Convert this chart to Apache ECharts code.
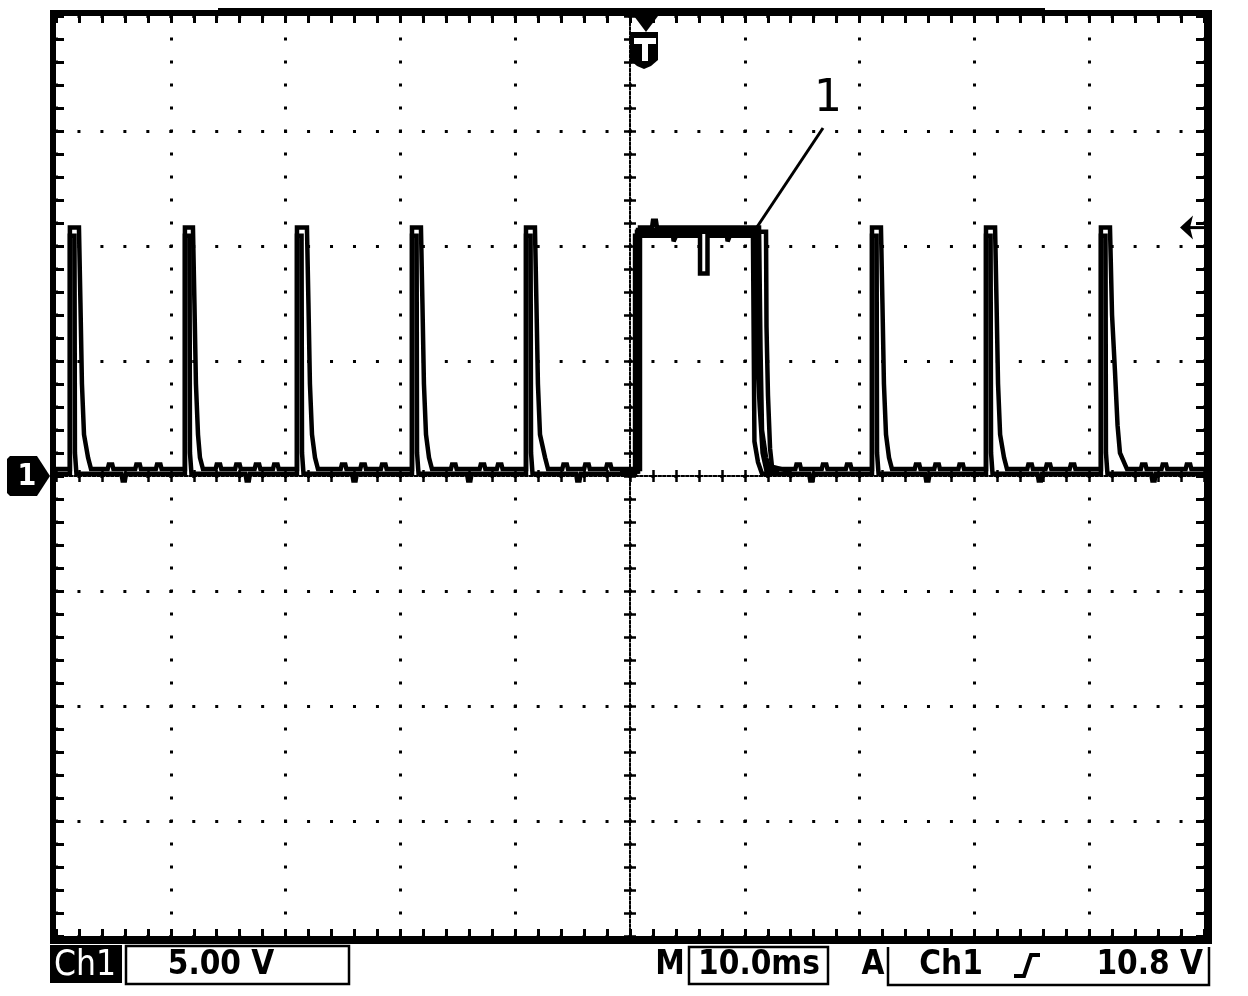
<!DOCTYPE html>
<html><head><meta charset="utf-8">
<script src="https://cdn.jsdelivr.net/npm/echarts@6/dist/echarts.min.js"></script>
<style>html,body{margin:0;padding:0;background:#fff;}#c{width:1248px;height:996px;}</style>
</head><body><div id="c"></div>
<script>
// ---- scales (ms and V) ----
const timeRange = [-50, 50];   // 10.0 ms / div, 10 divisions
const timeStep = 10;
const voltRange = [-20, 20];   // 5.00 V / div, 8 divisions
const voltStep = 5;

// ---- status texts ----
const channelName = 'Ch1';
const voltsPerDiv = '5.00 V';
const timePerDiv = '10.0ms';
const triggerSource = 'Ch1';
const triggerLevelText = '10.8 V';
const triggerLevel = 10.8;
const calloutLabel = '1';

// ---- persistence traces [ms, V] ----
const traceA = [
 [-50.0, 0.1],
 [-48.79, 0.1], [-48.79, 10.45], [-48.39, 10.45], [-48.35, 1.0], [-48.22, 0.1],
 [-44.30, 0.1], [-44.20, -0.2], [-44.00, -0.2], [-43.90, 0.1],
 [-38.77, 0.1], [-38.77, 10.45], [-38.37, 10.45], [-38.33, 1.0], [-38.20, 0.1],
 [-33.50, 0.1], [-33.40, -0.2], [-33.20, -0.2], [-33.10, 0.1],
 [-29.01, 0.1], [-29.01, 10.45], [-28.61, 10.45], [-28.57, 1.0], [-28.44, 0.1],
 [-24.20, 0.1], [-24.10, -0.2], [-23.90, -0.2], [-23.80, 0.1],
 [-18.99, 0.1], [-18.99, 10.45], [-18.59, 10.45], [-18.55, 1.0], [-18.42, 0.1],
 [-14.20, 0.1], [-14.10, -0.2], [-13.90, -0.2], [-13.80, 0.1],
 [-9.06, 0.1], [-9.06, 10.45], [-8.66, 10.45], [-8.62, 1.0], [-8.49, 0.1],
 [-4.70, 0.1], [-4.60, -0.2], [-4.40, -0.2], [-4.30, 0.1],
 [0.44, 0.1], [0.44, 10.45], [3.75, 10.45], [3.80, 10.2], [3.97, 10.2], [4.02, 10.45],
 [6.10, 10.45], [6.10, 8.8], [6.75, 8.8], [6.75, 10.45],
 [8.45, 10.45], [8.50, 10.2], [8.65, 10.2], [8.70, 10.45],
 [10.71, 10.45], [10.84, 1.5], [11.15, 0.6], [11.50, 0.1],
 [15.60, 0.1], [15.70, -0.2], [15.90, -0.2], [16.00, 0.1],
 [21.08, 0.1], [21.08, 10.45], [21.48, 10.45], [21.52, 1.0], [21.65, 0.1],
 [25.70, 0.1], [25.80, -0.2], [26.00, -0.2], [26.10, 0.1],
 [31.01, 0.1], [31.01, 10.45], [31.41, 10.45], [31.45, 1.0], [31.58, 0.1],
 [35.50, 0.1], [35.60, -0.2], [35.80, -0.2], [35.90, 0.1],
 [41.02, 0.1], [41.02, 10.45], [41.42, 10.45], [41.46, 1.0], [41.59, 0.1],
 [45.40, 0.1], [45.50, -0.2], [45.70, -0.2], [45.80, 0.1],
 [50.0, 0.1]
];

const traceB = [
 [-50.0, 0.3],
 [-48.79, 0.3], [-48.79, 10.8], [-48.00, 10.8], [-47.87, 7.5], [-47.74, 4.0], [-47.56, 1.8], [-47.21, 0.8], [-46.95, 0.3],
 [-45.50, 0.3], [-45.40, 0.5], [-45.10, 0.5], [-45.00, 0.3],
 [-43.10, 0.3], [-43.00, 0.5], [-42.70, 0.5], [-42.60, 0.3],
 [-41.30, 0.3], [-41.20, 0.5], [-40.90, 0.5], [-40.80, 0.3],
 [-38.77, 0.3], [-38.77, 10.8], [-38.07, 10.8], [-37.94, 7.5], [-37.81, 4.0], [-37.63, 1.8], [-37.46, 0.8], [-37.20, 0.3],
 [-36.10, 0.3], [-36.00, 0.5], [-35.70, 0.5], [-35.60, 0.3],
 [-34.40, 0.3], [-34.30, 0.5], [-34.00, 0.5], [-33.90, 0.3],
 [-32.70, 0.3], [-32.60, 0.5], [-32.30, 0.5], [-32.20, 0.3],
 [-31.10, 0.3], [-31.00, 0.5], [-30.70, 0.5], [-30.60, 0.3],
 [-29.01, 0.3], [-29.01, 10.8], [-28.14, 10.8], [-28.01, 7.5], [-27.88, 4.0], [-27.70, 1.8], [-27.44, 0.8], [-27.18, 0.3],
 [-25.20, 0.3], [-25.10, 0.5], [-24.80, 0.5], [-24.70, 0.3],
 [-23.50, 0.3], [-23.40, 0.5], [-23.10, 0.5], [-23.00, 0.3],
 [-21.70, 0.3], [-21.60, 0.5], [-21.30, 0.5], [-21.20, 0.3],
 [-18.99, 0.3], [-18.99, 10.8], [-18.21, 10.8], [-18.08, 7.5], [-17.95, 4.0], [-17.77, 1.8], [-17.51, 0.8], [-17.25, 0.3],
 [-15.60, 0.3], [-15.50, 0.5], [-15.20, 0.5], [-15.10, 0.3],
 [-13.10, 0.3], [-13.00, 0.5], [-12.70, 0.5], [-12.60, 0.3],
 [-11.60, 0.3], [-11.50, 0.5], [-11.20, 0.5], [-11.10, 0.3],
 [-9.06, 0.3], [-9.06, 10.8], [-8.28, 10.8], [-8.15, 7.5], [-8.02, 4.0], [-7.84, 1.8], [-7.40, 0.8], [-7.14, 0.3],
 [-5.90, 0.3], [-5.80, 0.5], [-5.50, 0.5], [-5.40, 0.3],
 [-4.00, 0.3], [-3.90, 0.5], [-3.60, 0.5], [-3.50, 0.3],
 [-2.10, 0.3], [-2.00, 0.5], [-1.70, 0.5], [-1.60, 0.3],
 [0.87, 0.3], [0.87, 10.8], [1.92, 10.8], [2.00, 11.1], [2.26, 11.1], [2.35, 10.8],
 [11.24, 10.8], [11.37, 5.5], [11.50, 2.0], [11.85, 0.8], [12.19, 0.3],
 [14.40, 0.3], [14.50, 0.5], [14.80, 0.5], [14.90, 0.3],
 [16.70, 0.3], [16.80, 0.5], [17.10, 0.5], [17.20, 0.3],
 [18.80, 0.3], [18.90, 0.5], [19.20, 0.5], [19.30, 0.3],
 [21.08, 0.3], [21.08, 10.8], [21.86, 10.8], [21.99, 7.5], [22.12, 4.0], [22.30, 1.8], [22.56, 0.8], [22.82, 0.3],
 [24.80, 0.3], [24.90, 0.5], [25.20, 0.5], [25.30, 0.3],
 [26.50, 0.3], [26.60, 0.5], [26.90, 0.5], [27.00, 0.3],
 [28.60, 0.3], [28.70, 0.5], [29.00, 0.5], [29.10, 0.3],
 [31.01, 0.3], [31.01, 10.8], [31.80, 10.8], [31.93, 7.5], [32.06, 4.0], [32.24, 1.8], [32.58, 0.8], [32.84, 0.3],
 [34.60, 0.3], [34.70, 0.5], [35.00, 0.5], [35.10, 0.3],
 [36.20, 0.3], [36.30, 0.5], [36.60, 0.5], [36.70, 0.3],
 [38.30, 0.3], [38.40, 0.5], [38.70, 0.5], [38.80, 0.3],
 [41.02, 0.3], [41.02, 10.8], [41.81, 10.8], [41.99, 7.0], [42.25, 4.5], [42.47, 2.2], [42.68, 1.0], [43.29, 0.3],
 [44.50, 0.3], [44.60, 0.5], [44.90, 0.5], [45.00, 0.3],
 [46.30, 0.3], [46.40, 0.5], [46.70, 0.5], [46.80, 0.3],
 [48.40, 0.3], [48.50, 0.5], [48.80, 0.5], [48.90, 0.3],
 [50.0, 0.3]
];

// extra sweeps of the long pulse (falling-edge jitter)
const traceC = [
 [-0.87, 0.2], [0.61, 0.2], [0.61, 10.62], [11.85, 10.62], [11.89, 6.5], [12.02, 3.5], [12.20, 1.2], [12.37, 0.4], [13.94, 0.2]
];
const traceD = [
 [-0.50, 0.2], [0.70, 0.2], [0.70, 10.7], [11.00, 10.7], [11.05, 5.4], [11.30, 3.0], [11.55, 1.0], [11.90, 0.2], [13.00, 0.2]
];

// ---- layout ----
const G = {left: 56, top: 16, width: 1148, height: 920};
const INK = '#000';
const tickLine = {color: INK, width: 3};
const FONT = '"DejaVu Sans Condensed","Liberation Sans Narrow","DejaVu Sans",sans-serif';

function xAx(pos, onZero, extra) {
  return Object.assign({
    type: 'value', min: timeRange[0], max: timeRange[1], interval: timeStep,
    position: pos,
    axisLine: {show: false, onZero: false},
    axisTick: {show: true, inside: true, length: 7, lineStyle: tickLine},
    minorTick: {show: true, splitNumber: 5, length: 7, lineStyle: tickLine},
    axisLabel: {show: false},
    splitLine: {show: false}
  }, extra || {});
}
function yAx(pos, extra) {
  return Object.assign({
    type: 'value', min: voltRange[0], max: voltRange[1], interval: voltStep,
    position: pos,
    axisLine: {show: false, onZero: false},
    axisTick: {show: true, inside: true, length: 8, lineStyle: tickLine},
    minorTick: {show: true, splitNumber: 5, length: 8, lineStyle: tickLine},
    axisLabel: {show: false},
    splitLine: {show: false}
  }, extra || {});
}
const centerLine = {show: true, onZero: true, onZeroAxisIndex: 0,
  lineStyle: {color: INK, width: 2, type: [2.3, 2.3]}};
const centerTick = {show: true, inside: false, length: 6, lineStyle: {color: INK, width: 2.5}};
const centerMinor = {show: true, splitNumber: 5, length: 6, lineStyle: {color: INK, width: 2.5}};

const xAxes = [
  xAx('bottom', false, {splitLine: {show: true, lineStyle: {color: INK, width: 3, type: [3, 20], dashOffset: 1.5}}}),
  xAx('top', false),
  xAx('bottom', true, {axisLine: centerLine, axisTick: centerTick, minorTick: centerMinor}),
  xAx('top', true, {axisLine: centerLine, axisTick: centerTick, minorTick: centerMinor})
];
const yAxes = [
  yAx('left', {splitLine: {show: true, lineStyle: {color: INK, width: 3, type: [3, 19.96], dashOffset: 1.5}}}),
  yAx('right'),
  yAx('left', {axisLine: centerLine, axisTick: centerTick, minorTick: centerMinor}),
  yAx('right', {axisLine: centerLine, axisTick: centerTick, minorTick: centerMinor})
];

function trace(data, w) {
  return {type: 'line', data: data, xAxisIndex: 0, yAxisIndex: 0, showSymbol: false,
    symbol: 'none', lineStyle: {color: INK, width: w, join: 'miter', miterLimit: 2},
    animation: false, z: 5, silent: true};
}

const chart = echarts.init(document.getElementById('c'), null, {renderer: 'canvas'});
chart.setOption({
  backgroundColor: '#fff',
  animation: false,
  grid: Object.assign({}, G),
  xAxis: xAxes,
  yAxis: yAxes,
  series: [trace(traceA, 4.5), trace(traceB, 4.5), trace(traceC, 4.5), trace(traceD, 4.5)]
});

// ---- screen furniture ----
const yTrig = chart.convertToPixel({yAxisIndex: 0}, triggerLevel);
const yGnd = chart.convertToPixel({yAxisIndex: 0}, 0);

function rect(x, y, w, h, fill) { return {type: 'rect', shape: {x: x, y: y, width: w, height: h}, style: {fill: fill || INK}, z: 100, silent: true}; }
function txt(t, x, y, font, align, fill) {
  return {type: 'text', x: x, y: y, z: 110, silent: true,
    style: {text: t, font: font, fill: fill || INK, align: align || 'left', verticalAlign: 'middle'}};
}
const bold33 = 'bold 33px ' + FONT;
const sy = 965;

chart.setOption({
  graphic: [
    // frame
    rect(50, 10, 1162, 6), rect(218, 8, 827, 8),
    rect(50, 10, 6, 934), rect(1204, 10, 8, 934), rect(50, 936, 1162, 8),
    // trigger position marker
    {type: 'polygon', shape: {points: [[634, 16], [658, 16], [646, 32]]}, style: {fill: INK}, z: 100},
    {type: 'polygon', shape: {points: [[630, 32], [658, 32], [658, 60], [651, 66], [644, 69], [637, 66], [630, 60]]}, style: {fill: INK}, z: 100},
    rect(634, 38, 22, 6, '#fff'), rect(642, 44, 6, 17, '#fff'),
    // ground marker
    {type: 'polygon', shape: {points: [[7, yGnd - 17], [10, yGnd - 20], [37, yGnd - 20], [50, yGnd], [37, yGnd + 20], [10, yGnd + 20], [7, yGnd + 17]]}, style: {fill: INK}, z: 100},
    txt(calloutLabel, 27, yGnd + 1, 'bold 30px ' + FONT, 'center', '#fff'),
    // trigger level arrow
    {type: 'polygon', shape: {points: [[1180, yTrig], [1193, yTrig - 12], [1190, yTrig], [1193, yTrig + 12]]}, style: {fill: INK}, z: 100},
    rect(1190, yTrig - 1.5, 14, 3),
    // callout
    {type: 'line', shape: {x1: 823, y1: 128, x2: 757, y2: 227}, style: {stroke: INK, lineWidth: 3}, z: 100},
    {type: 'text', x: 828, y: 122, z: 110, style: {text: calloutLabel, font: '44px "DejaVu Sans",sans-serif', fill: INK, align: 'center', verticalAlign: 'bottom'}},
    // status bar
    rect(50, 945, 72, 38),
    txt(channelName, 54, sy + 1, '35px ' + FONT, 'left', '#fff'),
    {type: 'rect', shape: {x: 126, y: 946, width: 223, height: 38}, style: {fill: 'none', stroke: INK, lineWidth: 2.5}, z: 100},
    txt(voltsPerDiv, 221, sy, bold33, 'center'),
    txt('M', 670, sy, bold33, 'center'),
    {type: 'rect', shape: {x: 689, y: 947, width: 139, height: 37}, style: {fill: 'none', stroke: INK, lineWidth: 2.5}, z: 100},
    txt(timePerDiv, 759, sy, bold33, 'center'),
    txt('A', 873, sy, bold33, 'center'),
    {type: 'polyline', shape: {points: [[888, 947], [888, 985], [1209, 985], [1209, 947]]}, style: {fill: 'none', stroke: INK, lineWidth: 2.5}, z: 100},
    txt(triggerSource, 951, sy, bold33, 'center'),
    {type: 'polyline', shape: {points: [[1014, 976], [1024, 976], [1031, 955], [1040, 955]]}, style: {fill: 'none', stroke: INK, lineWidth: 4}, z: 100},
    txt(triggerLevelText, 1203, sy, bold33, 'right')
  ]
});
</script>
</body></html>
